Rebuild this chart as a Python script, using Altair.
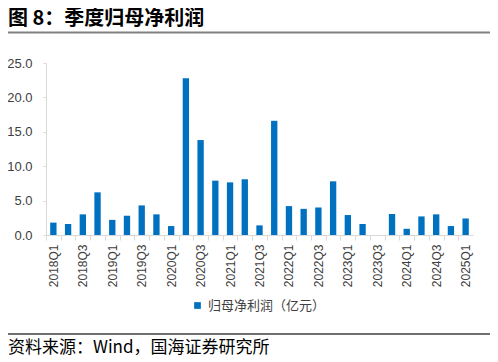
import altair as alt
import pandas as pd

quarters = [f"{y}Q{q}" for y in range(2018, 2025) for q in range(1, 5)] + ["2025Q1"]
profit = [1.8, 1.6, 3.0, 6.2, 2.2, 2.8, 4.3, 3.0, 1.3, 22.8, 13.8, 7.9, 7.65, 8.1,
          1.4, 16.6, 4.2, 3.8, 4.0, 7.8, 2.9, 1.6, 0.0, 3.05, 0.9, 2.7, 3.0, 1.3, 2.4]
series_name = "归母净利润（亿元）"
title_text = "图 8：季度归母净利润"
source_text = "资料来源：Wind，国海证券研究所"
y_ticks = [0, 5, 10, 15, 20, 25]

df = pd.DataFrame({"quarter": quarters, "value": profit, "series": series_name})

W, H = 427, 172
step = W / len(quarters)
CJK = "Noto Sans CJK SC"
LAT = "Liberation Sans"

bars = alt.Chart(df).mark_bar(color="#0070C0").encode(
    x=alt.X("quarter:N", sort=quarters, title=None,
            scale=alt.Scale(paddingInner=0.57, paddingOuter=0.285),
            axis=alt.Axis(labelAngle=270, labelFont=LAT, labelFontSize=12, labelColor="#404040",
                          domainColor="#D9D9D9", tickColor="#D9D9D9", tickSize=5,
                          tickOffset=-step / 2, labelOffset=step / 2, labelPadding=4,
                          labelExpr="indexof(datum.label,'Q2')>=0 || indexof(datum.label,'Q4')>=0 ? '' : datum.label")),
    y=alt.Y("value:Q", title=None,
            scale=alt.Scale(domain=[0, 25], nice=False),
            axis=alt.Axis(values=y_ticks, format=".1f", grid=False, labelFont=LAT, labelFontSize=13,
                          labelColor="#404040", domainColor="#D9D9D9", tickColor="#D9D9D9",
                          tickSize=3, labelPadding=11)),
    color=alt.Color("series:N", scale=alt.Scale(range=["#0070C0"]), title=None,
                    legend=alt.Legend(orient="none", legendX=145, legendY=236, symbolType="square",
                                      symbolSize=45, labelFont=CJK, labelFontSize=13,
                                      labelColor="#404040", symbolStrokeWidth=0)),
)

dummy = pd.DataFrame({"t": [0]})
title = alt.Chart(pd.DataFrame({"t": [title_text]})).mark_text(
    align="left", baseline="middle", font=CJK, fontSize=20, fontWeight="bold", color="#000000"
).encode(text="t:N", x=alt.value(-38), y=alt.value(-44))

top_line = alt.Chart(dummy).mark_rule(color="#808080", strokeWidth=2).encode(
    x=alt.value(-38), x2=alt.value(444), y=alt.value(-30.5))
bottom_line = alt.Chart(dummy).mark_rule(color="#404040", strokeWidth=1.5).encode(
    x=alt.value(-38), x2=alt.value(444), y=alt.value(271))

source = alt.Chart(pd.DataFrame({"t": [source_text]})).mark_text(
    align="left", baseline="middle", font=CJK, fontSize=17, color="#000000"
).encode(text="t:N", x=alt.value(-38), y=alt.value(285))

chart = alt.layer(bars, title, top_line, bottom_line, source).properties(
    width=W, height=H,
    padding={"left": 38, "top": 55, "right": 17, "bottom": 123},
    autosize=alt.AutoSizeParams(type="none"),
).configure_view(stroke=None)

chart.save("out.html", embed_options={"renderer": "svg", "actions": False})
